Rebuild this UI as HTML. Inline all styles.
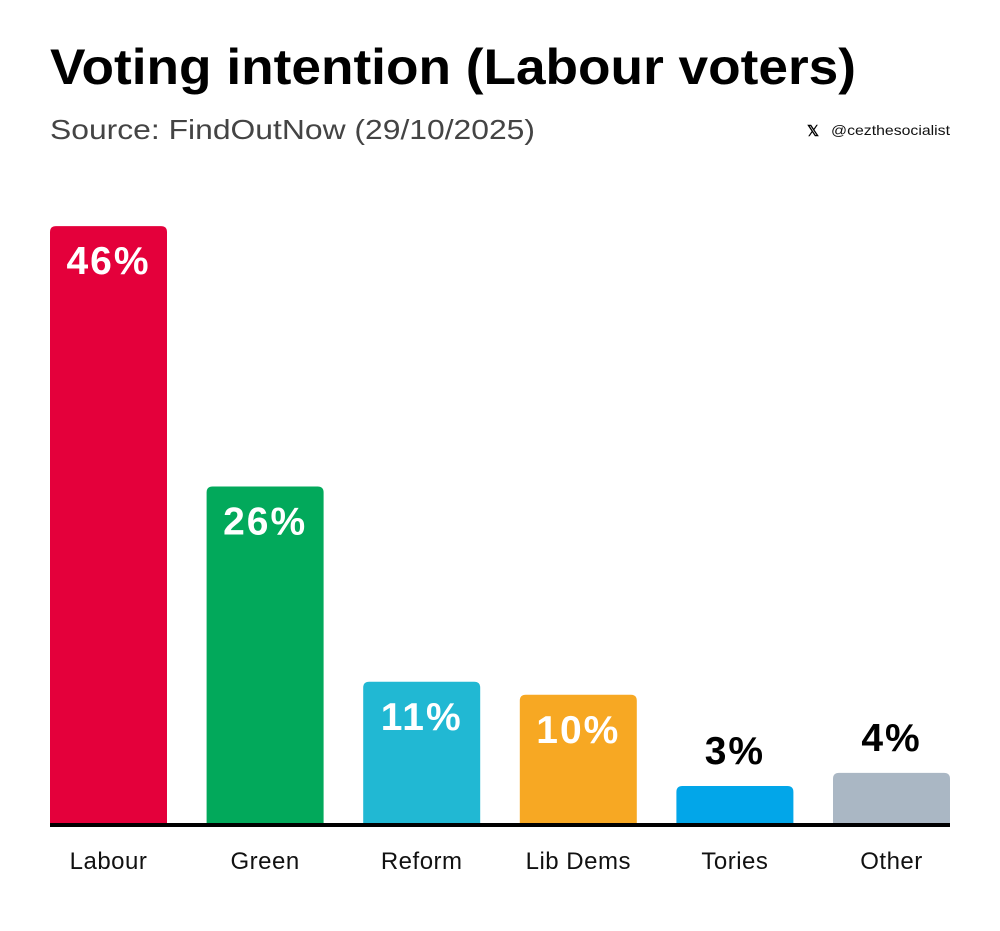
<!DOCTYPE html>
<html><head><meta charset="utf-8"><style>
body{margin:0;background:#fff;width:1000px;height:926px;overflow:hidden;font-family:"Liberation Sans",sans-serif}
</style></head><body>
<svg width="1000" height="926" viewBox="0 0 1000 926">
<text x="50" y="84" font-size="50" font-weight="bold" fill="#000" textLength="806" lengthAdjust="spacingAndGlyphs">Voting intention (Labour voters)</text>
<text x="50" y="139" font-size="28" fill="#444" textLength="485" lengthAdjust="spacingAndGlyphs">Source: FindOutNow (29/10/2025)</text>
<text x="807" y="136" font-size="15" font-weight="bold" fill="#000">𝕏</text>
<text x="950" y="135" font-size="14" fill="#111" text-anchor="end" textLength="119" lengthAdjust="spacingAndGlyphs">@cezthesocialist</text>
<g id="bars"></g>
<rect x="50" y="823" width="900" height="4" fill="#000"/>
</svg>
<script>
const categories=["Labour","Green","Reform","Lib Dems","Tories","Other"];
const values=[46,26,11,10,3,4];
const colors=["#e4003b","#02a95b","#21b8d3","#f7a823","#02a6e9","#aab7c4"];
const ns="http://www.w3.org/2000/svg";
const g=document.getElementById("bars");
const base=825,pxPer=13.02,x0=50,pitch=156.6,bw=117;
const yS=v=>base-v*pxPer;
categories.forEach((c,i)=>{
 const x=x0+i*pitch, y=yS(values[i]);
 const r=document.createElementNS(ns,"path");
 const h=base-y, rr=Math.min(6,h);
 r.setAttribute("d",`M${x},${base}V${y+rr}Q${x},${y} ${x+rr},${y}H${x+bw-rr}Q${x+bw},${y} ${x+bw},${y+rr}V${base}Z`);
 r.setAttribute("fill",colors[i]);
 
 
 g.appendChild(r);
 const t=document.createElementNS(ns,"text");
 const inside=values[i]>=8;
 t.setAttribute("x",x+bw/2);
 t.setAttribute("y",inside?y+48:y-22);
 t.setAttribute("text-anchor","middle");
 t.setAttribute("font-size","39");
 t.setAttribute("font-weight","bold");
 t.setAttribute("letter-spacing","2");
 t.setAttribute("fill",inside?"#fff":"#000");
 t.textContent=values[i]+"%";
 
 
 g.appendChild(t);
 const l=document.createElementNS(ns,"text");
 l.setAttribute("x",x+bw/2);
 l.setAttribute("y",869);
 l.setAttribute("text-anchor","middle");
 l.setAttribute("font-size","24");
 l.setAttribute("letter-spacing","0.5");
 l.setAttribute("fill","#111");
 l.textContent=c;
 
 
 g.appendChild(l);
});
</script>
</body></html>
